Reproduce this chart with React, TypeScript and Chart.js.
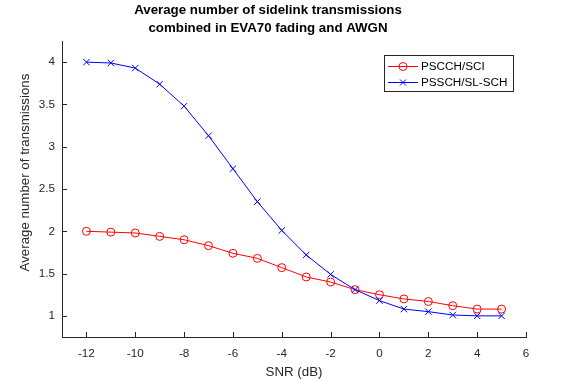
import React, { useEffect, useRef } from "react";
import { Chart, registerables } from "chart.js";

Chart.register(...registerables);

const snr = [-12, -11, -10, -9, -8, -7, -6, -5, -4, -3, -2, -1, 0, 1, 2, 3, 4, 5];
const pscchSci = [2.0, 1.99, 1.98, 1.94, 1.9, 1.83, 1.74, 1.68, 1.57, 1.46, 1.4, 1.31, 1.25, 1.2, 1.17, 1.12, 1.08, 1.08];
const psschSlSch = [4.0, 3.99, 3.93, 3.74, 3.48, 3.13, 2.74, 2.35, 2.01, 1.72, 1.49, 1.31, 1.18, 1.08, 1.05, 1.01, 1.0, 1.0];
const xTicks = [-12, -10, -8, -6, -4, -2, 0, 2, 4, 6];
const yTicks = [1, 1.5, 2, 2.5, 3, 3.5, 4];
const seriesNames = ["PSCCH/SCI", "PSSCH/SL-SCH"];
const titleLines = ["Average number of sidelink transmissions", "combined in EVA70 fading and AWGN"];
const xTitle = "SNR (dB)";
const yTitle = "Average number of transmissions";

const FONT = '"Liberation Sans", Arial, Helvetica, sans-serif';
const AXIS = "#262626";

const decorPlugin = {
  id: "decor",
  afterDraw(chart: any) {
    const ctx = chart.ctx;
    const area = chart.chartArea;
    const xs = chart.scales.x;
    const ys = chart.scales.y;
    ctx.save();
    // inward ticks
    ctx.strokeStyle = AXIS;
    ctx.lineWidth = 1;
    ctx.beginPath();
    xs.ticks.forEach((t: any) => {
      const px = Math.round(xs.getPixelForValue(t.value)) + 0.5;
      ctx.moveTo(px, area.bottom);
      ctx.lineTo(px, area.bottom - 5);
    });
    ys.ticks.forEach((t: any) => {
      const py = Math.round(ys.getPixelForValue(t.value)) + 0.5;
      ctx.moveTo(area.left, py);
      ctx.lineTo(area.left + 5, py);
    });
    ctx.stroke();

    // title
    ctx.fillStyle = "#000";
    ctx.font = `bold 13.3px ${FONT}`;
    ctx.textAlign = "center";
    ctx.textBaseline = "alphabetic";
    ctx.fillText(titleLines[0], 268, 13.5);
    ctx.fillText(titleLines[1], 268, 32.3);

    // y title
    ctx.save();
    ctx.fillStyle = AXIS;
    ctx.font = `13.3px ${FONT}`;
    ctx.translate(25, 172.5);
    ctx.rotate(-Math.PI / 2);
    ctx.textAlign = "center";
    ctx.textBaseline = "middle";
    ctx.fillText(yTitle, 0, 0);
    ctx.restore();

    // legend
    const bx = 384.5, by = 55.5, bw = 129, bh = 36;
    ctx.fillStyle = "#fff";
    ctx.fillRect(bx, by, bw, bh);
    ctx.strokeStyle = AXIS;
    ctx.strokeRect(bx, by, bw, bh);
    const rows = [66, 82];
    chart.data.datasets.forEach((ds: any, i: number) => {
      const y = rows[i] + 0.5;
      ctx.strokeStyle = ds.borderColor;
      ctx.lineWidth = 1;
      ctx.beginPath();
      ctx.moveTo(388, y);
      ctx.lineTo(418, y);
      ctx.stroke();
      ctx.beginPath();
      if (i === 0) {
        ctx.arc(403, y, 4, 0, Math.PI * 2);
      } else {
        ctx.moveTo(400, y - 3);
        ctx.lineTo(406, y + 3);
        ctx.moveTo(400, y + 3);
        ctx.lineTo(406, y - 3);
      }
      ctx.stroke();
      ctx.fillStyle = "#000";
      ctx.font = `11.7px ${FONT}`;
      ctx.textAlign = "left";
      ctx.textBaseline = "middle";
      ctx.fillText(ds.label, 421, y);
    });
    ctx.restore();
  },
};

export default function App() {
  const ref = useRef<HTMLCanvasElement | null>(null);
  useEffect(() => {
    if (!ref.current) return;
    const chart = new Chart(ref.current, {
      type: "line",
      data: {
        datasets: [
          {
            label: seriesNames[0],
            data: snr.map((x, i) => ({ x, y: pscchSci[i] })),
            borderColor: "#ff0000",
            backgroundColor: "rgba(0,0,0,0)",
            borderWidth: 1,
            pointStyle: "circle",
            pointRadius: 4,
            pointBorderWidth: 1,
            pointBorderColor: "#ff0000",
            pointBackgroundColor: "rgba(0,0,0,0)",
            tension: 0,
            order: 1,
          },
          {
            label: seriesNames[1],
            data: snr.map((x, i) => ({ x, y: psschSlSch[i] })),
            borderColor: "#0000ff",
            backgroundColor: "rgba(0,0,0,0)",
            borderWidth: 1,
            pointStyle: "crossRot",
            pointRadius: 4.5,
            pointBorderWidth: 1,
            pointBorderColor: "#0000ff",
            pointBackgroundColor: "rgba(0,0,0,0)",
            tension: 0,
            order: 0,
          },
        ],
      },
      options: {
        animation: false,
        responsive: false,
        devicePixelRatio: 1,
        layout: { padding: { top: 41, right: 47, left: 0, bottom: 0 } },
        plugins: {
          legend: { display: false },
          title: { display: false },
          tooltip: { enabled: false },
        },
        scales: {
          x: {
            type: "linear",
            min: -13,
            max: 6,
            grid: { display: false, drawTicks: false },
            border: { display: true, color: AXIS, width: 1 },
            ticks: {
              color: AXIS,
              font: { family: FONT, size: 11.7 },
              padding: 10,
              maxRotation: 0,
              callback: (v: any) => String(v),
            },
            title: {
              display: true,
              text: xTitle,
              color: AXIS,
              font: { family: FONT, size: 13.3 },
              padding: { top: 0, bottom: 2 },
            },
            afterBuildTicks: (scale: any) => {
              scale.ticks = xTicks.map((v) => ({ value: v }));
            },
            afterFit: (scale: any) => {
              scale.height = 45;
            },
          },
          y: {
            type: "linear",
            min: 0.75,
            max: 4.25,
            grid: { display: false, drawTicks: false },
            border: { display: true, color: AXIS, width: 1 },
            ticks: {
              color: AXIS,
              font: { family: FONT, size: 11.7 },
              padding: 7,
              callback: (v: any) => String(v),
            },
            afterBuildTicks: (scale: any) => {
              scale.ticks = yTicks.map((v) => ({ value: v }));
            },
            afterFit: (scale: any) => {
              scale.width = 62;
            },
          },
        },
      } as any,
      plugins: [decorPlugin],
    });
    return () => chart.destroy();
  }, []);
  return (
    <div style={{ position: "absolute", left: 0, top: 0, width: 573, height: 382, background: "#fff" }}>
      <canvas ref={ref} width={573} height={382} style={{ display: "block" }} />
    </div>
  );
}
